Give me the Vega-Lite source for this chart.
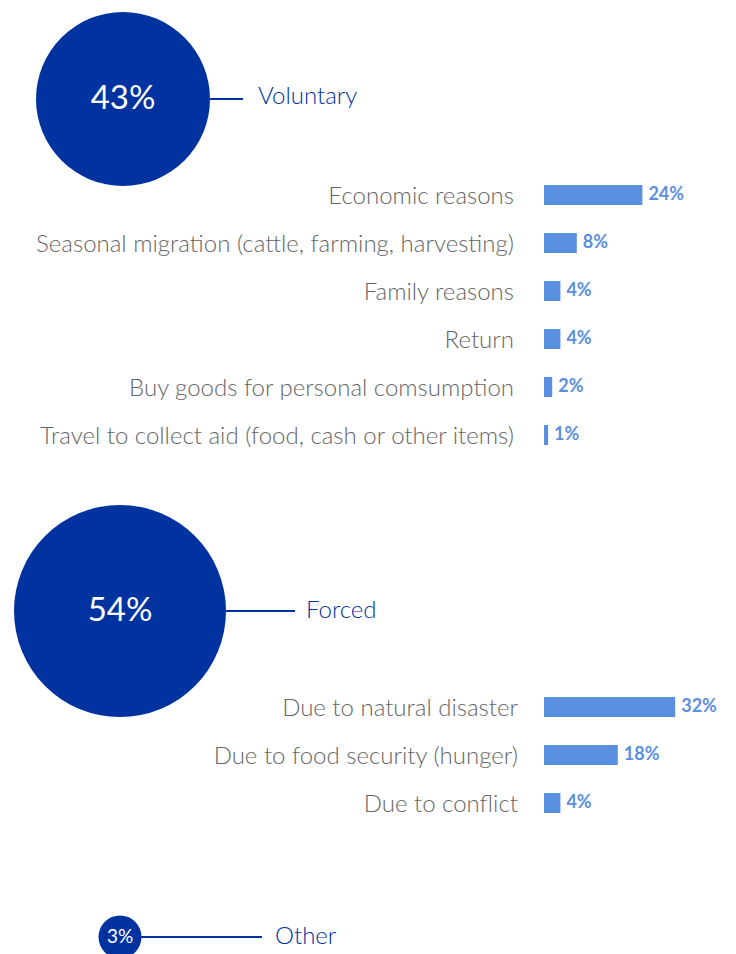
{
  "$schema": "https://vega.github.io/schema/vega-lite/v6.json",
  "padding": 0,
  "background": "white",
  "spacing": 0,
  "bounds": "flush",
  "config": {"view": {"stroke": null}, "font": "Lato"},
  "datasets": {
    "migration": [
      {"section": "Voluntary", "kind": "group", "label": "Voluntary", "value": 0.43},
      {"section": "Voluntary", "kind": "reason", "label": "Economic reasons", "value": 0.24},
      {"section": "Voluntary", "kind": "reason", "label": "Seasonal migration (cattle, farming, harvesting)", "value": 0.08},
      {"section": "Voluntary", "kind": "reason", "label": "Family reasons", "value": 0.04},
      {"section": "Voluntary", "kind": "reason", "label": "Return", "value": 0.04},
      {"section": "Voluntary", "kind": "reason", "label": "Buy goods for personal comsumption", "value": 0.02},
      {"section": "Voluntary", "kind": "reason", "label": "Travel to collect aid (food, cash or other items)", "value": 0.01},
      {"section": "Forced", "kind": "group", "label": "Forced", "value": 0.54},
      {"section": "Forced", "kind": "reason", "label": "Due to natural disaster", "value": 0.32},
      {"section": "Forced", "kind": "reason", "label": "Due to food security (hunger)", "value": 0.18},
      {"section": "Forced", "kind": "reason", "label": "Due to conflict", "value": 0.04},
      {"section": "Other", "kind": "group", "label": "Other", "value": 0.03}
    ]
  },
  "vconcat": [
    {
      "width": 736,
      "height": 548,
      "data": {"name": "migration"},
      "transform": [{"filter": "datum.section === 'Voluntary'"}],
      "encoding": {
        "y": {
          "field": "label", "type": "nominal", "axis": null,
          "scale": {
            "type": "band",
            "domain": ["Voluntary", " ", "Economic reasons", "Seasonal migration (cattle, farming, harvesting)", "Family reasons", "Return", "Buy goods for personal comsumption", "Travel to collect aid (food, cash or other items)", "  ", "   "],
            "paddingInner": 0.58333, "paddingOuter": 1, "align": 0.9271
          }
        }
      },
      "layer": [
        {
          "transform": [{"filter": "datum.kind === 'group'"}],
          "encoding": {
            "x": {"field": "label", "type": "nominal", "axis": null, "scale": {"type": "band", "range": [123, 243], "paddingInner": 0, "paddingOuter": 0}}
          },
          "layer": [
            {"mark": {"type": "bar", "height": 2, "color": "#0033A0"}},
            {
              "mark": {"type": "point", "filled": true, "opacity": 1, "color": "#0033A0"},
              "encoding": {
                "x": {"field": "label", "type": "nominal", "bandPosition": 0, "axis": null, "scale": {"type": "band", "range": [123, 243], "paddingInner": 0, "paddingOuter": 0}},
                "size": {"field": "value", "type": "quantitative", "legend": null, "scale": {"domain": [0.03, 0.43, 0.54], "range": [1849, 30276, 44944]}}
              }
            },
            {
              "mark": {"type": "text", "align": "center", "baseline": "middle", "fontSize": 33, "color": "white"},
              "encoding": {
                "x": {"field": "label", "type": "nominal", "bandPosition": 0, "axis": null, "scale": {"type": "band", "range": [123, 243], "paddingInner": 0, "paddingOuter": 0}},
                "text": {"field": "value", "type": "quantitative", "format": ".0%"}
              }
            },
            {
              "mark": {"type": "text", "align": "left", "baseline": "middle", "fontSize": 24, "fontWeight": 300, "dx": 15, "dy": -2, "color": "#0033A0"},
              "encoding": {
                "x": {"field": "label", "type": "nominal", "bandPosition": 1, "axis": null, "scale": {"type": "band", "range": [123, 243], "paddingInner": 0, "paddingOuter": 0}},
                "text": {"field": "label", "type": "nominal"}
              }
            }
          ]
        },
        {
          "transform": [{"filter": "datum.kind === 'reason'"}],
          "encoding": {
            "x": {"field": "value", "type": "quantitative", "axis": null, "scale": {"domain": [0, 0.4], "range": [544, 708], "nice": false}}
          },
          "layer": [
            {"mark": {"type": "bar", "color": "#5B8FE0"}},
            {
              "mark": {"type": "text", "align": "left", "baseline": "middle", "dx": 6, "fontSize": 18, "fontWeight": "bold", "color": "#5B8FE0"},
              "encoding": {"text": {"field": "value", "type": "quantitative", "format": ".0%"}}
            },
            {
              "mark": {"type": "text", "align": "right", "baseline": "middle", "dx": -30, "dy": 2, "fontSize": 24, "fontWeight": 300, "color": "#666666"},
              "encoding": {"x": {"datum": 0}, "text": {"field": "label", "type": "nominal"}}
            }
          ]
        }
      ],
      "resolve": {"scale": {"x": "independent"}}
    },
    {
      "width": 736,
      "height": 308,
      "data": {"name": "migration"},
      "transform": [{"filter": "datum.section === 'Forced'"}],
      "encoding": {
        "y": {
          "field": "label", "type": "nominal", "axis": null,
          "scale": {
            "type": "band",
            "domain": ["Forced", " ", "Due to natural disaster", "Due to food security (hunger)", "Due to conflict"],
            "paddingInner": 0.58333, "paddingOuter": 1, "align": 0.552
          }
        }
      },
      "layer": [
        {
          "transform": [{"filter": "datum.kind === 'group'"}],
          "encoding": {
            "x": {"field": "label", "type": "nominal", "axis": null, "scale": {"type": "band", "range": [120, 295], "paddingInner": 0, "paddingOuter": 0}}
          },
          "layer": [
            {"mark": {"type": "bar", "height": 2, "color": "#0033A0"}},
            {
              "mark": {"type": "point", "filled": true, "opacity": 1, "color": "#0033A0"},
              "encoding": {
                "x": {"field": "label", "type": "nominal", "bandPosition": 0, "axis": null, "scale": {"type": "band", "range": [120, 295], "paddingInner": 0, "paddingOuter": 0}},
                "size": {"field": "value", "type": "quantitative", "legend": null, "scale": {"domain": [0.03, 0.43, 0.54], "range": [1849, 30276, 44944]}}
              }
            },
            {
              "mark": {"type": "text", "align": "center", "baseline": "middle", "fontSize": 33, "color": "white"},
              "encoding": {
                "x": {"field": "label", "type": "nominal", "bandPosition": 0, "axis": null, "scale": {"type": "band", "range": [120, 295], "paddingInner": 0, "paddingOuter": 0}},
                "text": {"field": "value", "type": "quantitative", "format": ".0%"}
              }
            },
            {
              "mark": {"type": "text", "align": "left", "baseline": "middle", "fontSize": 24, "fontWeight": 300, "dx": 11, "color": "#0033A0"},
              "encoding": {
                "x": {"field": "label", "type": "nominal", "bandPosition": 1, "axis": null, "scale": {"type": "band", "range": [120, 295], "paddingInner": 0, "paddingOuter": 0}},
                "text": {"field": "label", "type": "nominal"}
              }
            }
          ]
        },
        {
          "transform": [{"filter": "datum.kind === 'reason'"}],
          "encoding": {
            "x": {"field": "value", "type": "quantitative", "axis": null, "scale": {"domain": [0, 0.4], "range": [544, 708], "nice": false}}
          },
          "layer": [
            {"mark": {"type": "bar", "color": "#5B8FE0"}},
            {
              "mark": {"type": "text", "align": "left", "baseline": "middle", "dx": 6, "fontSize": 18, "fontWeight": "bold", "color": "#5B8FE0"},
              "encoding": {"text": {"field": "value", "type": "quantitative", "format": ".0%"}}
            },
            {
              "mark": {"type": "text", "align": "right", "baseline": "middle", "dx": -26, "dy": 2, "fontSize": 24, "fontWeight": 300, "color": "#666666"},
              "encoding": {"x": {"datum": 0}, "text": {"field": "label", "type": "nominal"}}
            }
          ]
        }
      ],
      "resolve": {"scale": {"x": "independent"}}
    },
    {
      "width": 736,
      "height": 98,
      "data": {"name": "migration"},
      "transform": [{"filter": "datum.section === 'Other'"}],
      "encoding": {
        "y": {
          "field": "label", "type": "nominal", "axis": null,
          "scale": {"type": "band", "domain": ["Other"], "paddingInner": 0.58333, "paddingOuter": 1, "align": 0.894}
        },
        "x": {"field": "label", "type": "nominal", "axis": null, "scale": {"type": "band", "range": [120, 262], "paddingInner": 0, "paddingOuter": 0}}
      },
      "layer": [
        {"mark": {"type": "bar", "height": 2, "color": "#0033A0"}},
        {
          "mark": {"type": "point", "filled": true, "opacity": 1, "color": "#0033A0"},
          "encoding": {
            "x": {"field": "label", "type": "nominal", "bandPosition": 0, "axis": null, "scale": {"type": "band", "range": [120, 262], "paddingInner": 0, "paddingOuter": 0}},
            "size": {"field": "value", "type": "quantitative", "legend": null, "scale": {"domain": [0.03, 0.43, 0.54], "range": [1849, 30276, 44944]}}
          }
        },
        {
          "mark": {"type": "text", "align": "center", "baseline": "middle", "fontSize": 19, "color": "white"},
          "encoding": {
            "x": {"field": "label", "type": "nominal", "bandPosition": 0, "axis": null, "scale": {"type": "band", "range": [120, 262], "paddingInner": 0, "paddingOuter": 0}},
            "text": {"field": "value", "type": "quantitative", "format": ".0%"}
          }
        },
        {
          "mark": {"type": "text", "align": "left", "baseline": "middle", "fontSize": 24, "fontWeight": 300, "dx": 13, "color": "#0033A0"},
          "encoding": {
            "x": {"field": "label", "type": "nominal", "bandPosition": 1, "axis": null, "scale": {"type": "band", "range": [120, 262], "paddingInner": 0, "paddingOuter": 0}},
            "text": {"field": "label", "type": "nominal"}
          }
        }
      ]
    }
  ]
}
